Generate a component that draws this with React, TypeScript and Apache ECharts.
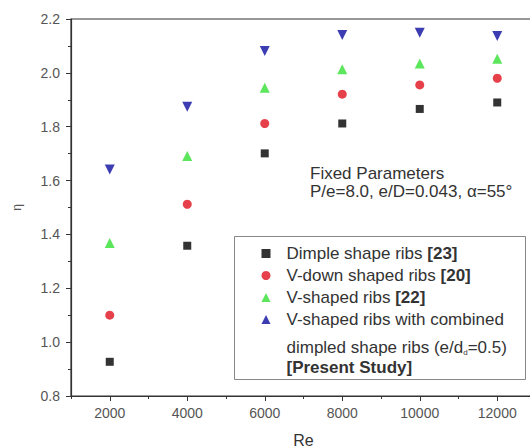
import React, { useEffect, useRef } from "react";
import * as echarts from "echarts";

const reValues = [2000, 4000, 6000, 8000, 10000, 12000];
const dimple = [0.927, 1.358, 1.701, 1.812, 1.866, 1.89];
const vDown = [1.1, 1.512, 1.812, 1.921, 1.955, 1.98];
const vShaped = [1.368, 1.691, 1.945, 2.013, 2.035, 2.052];
const combined = [1.641, 1.874, 2.081, 2.141, 2.149, 2.137];
const majorTicks = [2000, 4000, 6000, 8000, 10000, 12000];
const minorTicksX = [1000, 3000, 5000, 7000, 9000, 11000, 13000];

const seriesNames = [
  "Dimple shape ribs",
  "V-down shaped ribs",
  "V-shaped ribs",
  "V-shaped ribs with combined",
];
const seriesRefs = ["[23]", "[20]", "[22]", ""];

export default function App() {
  const ref = useRef<HTMLDivElement>(null);
  useEffect(() => {
    document.body.style.margin = "0";
    const chart = echarts.init(ref.current!, null, { renderer: "svg" });
    const font = "Liberation Sans, Arial, sans-serif";
    const mk = (name: string, vals: number[], symbol: string, size: number, color: string) => ({
      name,
      type: "scatter",
      data: reValues.map((x, i) => [x, vals[i]]),
      symbol,
      symbolSize: size,
      itemStyle: { color },
      xAxisIndex: 0,
    });
    chart.setOption({
      animation: false,
      backgroundColor: "#fff",
      grid: {
        left: 71,
        top: 19,
        width: 465,
        height: 377,
        containLabel: false,
        outerBoundsMode: "none",
        show: true,
        borderColor: "#333",
        borderWidth: 1.2,
      },
      xAxis: [
        {
          type: "value",
          min: 1000,
          max: 13000,
          interval: 1000,
          name: "Re",
          nameLocation: "middle",
          nameGap: 36,
          nameTextStyle: { fontFamily: font, fontSize: 16, color: "#333" },
          axisLine: { lineStyle: { color: "#333", width: 1.2 } },
          axisTick: { show: true, length: 5, customValues: majorTicks, lineStyle: { color: "#333" } },
          axisLabel: {
            customValues: majorTicks,
            fontFamily: font,
            fontSize: 14,
            color: "#555",
            margin: 10,
            formatter: (v: number) => String(v),
          },
          splitLine: { show: false },
        },
        {
          type: "value",
          min: 1000,
          max: 13000,
          position: "bottom",
          axisLine: { show: false },
          axisTick: { show: true, length: 3, customValues: minorTicksX, lineStyle: { color: "#333" } },
          axisLabel: { show: false },
          splitLine: { show: false },
        },
      ],
      yAxis: {
        type: "value",
        min: 0.8,
        max: 2.2,
        interval: 0.2,
        name: "η",
        nameLocation: "middle",
        nameRotate: 90,
        nameGap: 48,
        nameTextStyle: { fontFamily: font, fontSize: 12, color: "#555" },
        axisLine: { show: true, lineStyle: { color: "#333", width: 1.2 } },
        axisTick: { show: true, length: 5, lineStyle: { color: "#333" } },
        minorTick: { show: true, splitNumber: 2, length: 3, lineStyle: { color: "#333" } },
        axisLabel: {
          fontFamily: font,
          fontSize: 14,
          color: "#555",
          margin: 11,
          formatter: (v: number) => v.toFixed(1),
        },
        splitLine: { show: false },
      },
      legend: {
        orient: "vertical",
        left: 256.5,
        top: 240,
        itemWidth: 9,
        itemHeight: 9,
        itemGap: 5,
        textStyle: {
          fontFamily: font,
          fontSize: 17,
          color: "#333",
          padding: [0, 0, 0, 11],
          rich: {
            b: { fontFamily: font, fontSize: 17, fontWeight: "bold", color: "#333" },
          },
        },
        formatter: (name: string) => {
          const i = seriesNames.indexOf(name);
          return seriesRefs[i] ? name + " {b|" + seriesRefs[i] + "}" : name;
        },
        data: seriesNames,
      },
      graphic: [
        {
          type: "rect",
          shape: { x: 234.5, y: 236.5, width: 291, height: 143 },
          style: { fill: "none", stroke: "#888", lineWidth: 1 },
          z: 1,
        },
        {
          type: "text",
          x: 286.5,
          y: 347,
          style: {
            text: "dimpled shape ribs (e/d{s|d}=0.5)",
            fontFamily: font,
            fontSize: 17,
            fill: "#333",
            verticalAlign: "middle",
            rich: { s: { fontFamily: font, fontSize: 8, fill: "#333", padding: [10, 0, 0, 0] } },
          },
        },
        {
          type: "text",
          x: 286.5,
          y: 367,
          style: {
            text: "[Present Study]",
            fontFamily: font,
            fontSize: 17,
            fontWeight: "bold",
            fill: "#333",
            verticalAlign: "middle",
          },
        },
        {
          type: "text",
          x: 310,
          y: 173,
          style: { text: "Fixed Parameters", fontFamily: font, fontSize: 17, fill: "#333", verticalAlign: "middle" },
        },
        {
          type: "text",
          x: 310,
          y: 191,
          style: {
            text: "P/e=8.0, e/D=0.043, α=55°",
            fontFamily: font,
            fontSize: 17,
            fill: "#333",
            verticalAlign: "middle",
          },
        },
      ],
      series: [
        mk(seriesNames[0], dimple, "rect", 8, "#000"),
        mk(seriesNames[1], vDown, "circle", 9, "#e0121e"),
        mk(seriesNames[2], vShaped, "triangle", 10, "#33e033"),
        { ...mk(seriesNames[3], combined, "triangle", 10, "#0c0ca0"), symbolRotate: 180 },
      ],
    });
    return () => chart.dispose();
  }, []);
  return <div ref={ref} style={{ width: 530, height: 448 }} />;
}
